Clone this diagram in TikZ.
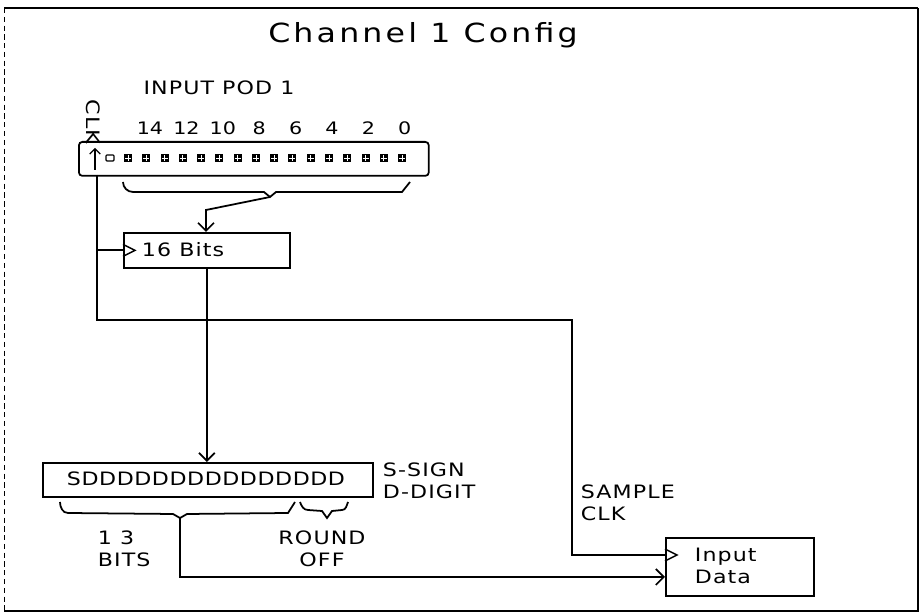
\documentclass[tikz,border=0pt]{standalone}
\usepackage{fontspec}
\setmainfont{DejaVu Sans}[FakeStretch=1.2, LetterSpace=6]
\usetikzlibrary{arrows.meta,calc}

\tikzset{
  box/.style={draw, anchor=north west, inner sep=0pt},
  lbl/.style={font=\fontsize{10.5}{12.5}\selectfont, inner sep=0pt, align=left},
  numlbl/.style={font=\fontsize{9.8}{12}\selectfont\addfontfeatures{LetterSpace=0}, inner sep=0pt},
  arr/.style={-{Straight Barb[length=4.5pt,width=9pt]}},
  clock/.style={line width=0.8pt},
}

\begin{document}
\begin{tikzpicture}[x=0.02cm, y=-0.02cm, line width=1pt]
    \useasboundingbox (0,0) rectangle (921,614);

    % Frame
    \draw[line width=1.3pt] (4,8) -- (918,8);
    \draw[densely dashed, line width=0.5pt] (4,8) -- (4,611);
    \draw[line width=0.7pt] (4,611) -- (918,611) -- (918,8);

    % Title
    \node[font=\fontsize{15}{17}\selectfont\addfontfeatures{LetterSpace=12}] (title) at (423,35) {Channel 1 Config};

    % Input pod
    \node[lbl] (podname) at (219,88) {INPUT POD 1};
    \node[lbl, rotate=-90] (clkname) at (93,122) {CLK};
    \foreach \n [count=\i] in {14,12,10,8,6,4,2,0}
        \node[numlbl] (num\n) at ({150+36.4*(\i-1)},128) {\n};
    \node[box, rounded corners=2pt, minimum width=7cm, minimum height=0.68cm] (pod) at (78,141) {};
    \node[coordinate] (up0) at (95,170) {};
    \node[coordinate] (up1) at (95,148) {};
    \draw[-{Straight Barb[length=3pt,width=6pt]}, line width=0.7pt] (up0) -- (up1);
    \draw[line width=0.7pt, rounded corners=0.5pt] (106,155) rectangle (114,161);
    \foreach \i in {0,...,15} {
        \fill ({124+18.27*\i},154) rectangle ++(8,8);
        \draw[white, line width=0.4pt] ({125+18.27*\i},158) -- ++(6,0)
            ({128+18.27*\i},155) -- ++(0,6);
    }

    % Brace under pod
    \node[coordinate] (podtip) at (270,197) {};
    \node[coordinate] (podbend) at (206,210) {};
    \draw (123,182) to[out=-90,in=180] (133,192) -- (264,192) -- (podtip)
        -- (276,192) -- (402,192) -- (410,182);

    % 16 bit latch
    \node[box, minimum width=3.32cm, minimum height=0.7cm] (latch) at (123,232) {};
    \node[lbl, anchor=west] (latchname) at (141,250) {16 Bits};
    \draw[clock] ($(latch.west)+(0,-6)$) -- ++(12,6) -- ++(-12,6);
    \draw[arr] (podtip) -- (podbend) -- (podbend |- latch.north);

    % Clock line
    \node[coordinate] (clk0) at (97,175) {};
    \node[coordinate] (smp) at (572,320) {};
    \node[coordinate] (clkin) at (665,555) {};
    \draw (clk0) |- (smp) |- (clkin);
    \draw (clk0 |- latch.west) -- (latch.west);

    % Data word
    \node[box, minimum width=6.6cm, minimum height=0.68cm] (word) at (42,462) {};
    \node[font=\fontsize{10.5}{12}\selectfont\addfontfeatures{LetterSpace=3}, inner sep=0pt] (digits) at (206,479) {SDDDDDDDDDDDDDDD};
    \node[lbl, anchor=west] (legend) at (382,481) {S-SIGN\\D-DIGIT};
    \draw[arr] (latch.south) -- (latch.south |- word.north);

    % Braces under word
    \node[coordinate] (bigtip) at (180,518) {};
    \node[coordinate] (smalltip) at (327,518) {};
    \draw (60,502) to[out=-90,in=180] (68,513) -- (173,514) -- (bigtip)
        -- (187,514) -- (288,513) -- (295,502);
    \draw (300,502) to[out=-70,in=180] (308,510) -- (322,511) -- (smalltip)
        -- (332,511) -- (342,510) to[out=0,in=-110] (348,502);
    \node[lbl, anchor=west] (bitsname) at (97,549) {1 3\\BITS};
    \node[lbl, align=center] (roundname) at (322,549) {ROUND\\OFF};

    % Input data
    \node[box, minimum width=2.96cm, minimum height=1.16cm] (indata) at (665,537) {};
    \node[lbl, anchor=west] (indataname) at (694,566) {Input\\Data};
    \node[lbl, anchor=west] (smpname) at (580,503) {SAMPLE\\CLK};
    \draw[clock] ($(clkin)+(0,-6)$) -- ++(12,6) -- ++(-12,6);
    \node[coordinate] (datain) at (665,577) {};
    \draw[arr] (bigtip) |- (datain);
\end{tikzpicture}
\end{document}
